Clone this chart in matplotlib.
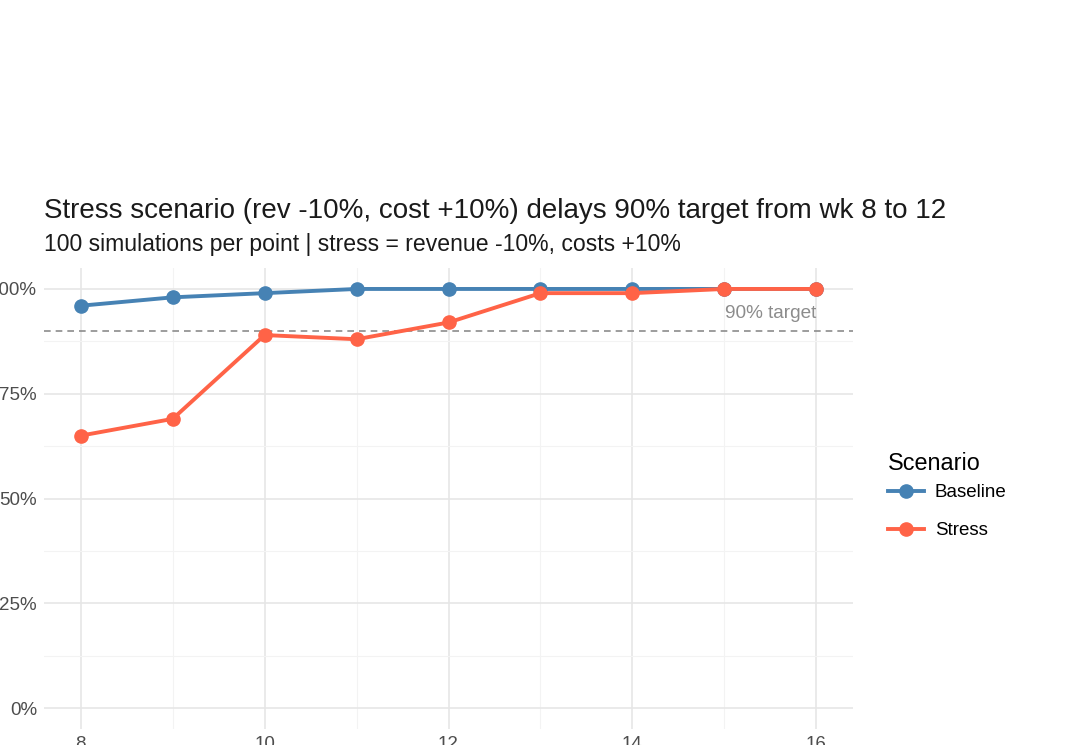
import matplotlib
matplotlib.use("Agg")
import matplotlib.pyplot as plt
from matplotlib.ticker import FixedLocator, PercentFormatter

plt.rcParams["font.family"] = ["Liberation Sans", "DejaVu Sans"]

weeks = [8, 9, 10, 11, 12, 13, 14, 15, 16]
baseline = [0.96, 0.98, 0.99, 1.00, 1.00, 1.00, 1.00, 1.00, 1.00]
stress = [0.65, 0.69, 0.89, 0.88, 0.92, 0.99, 0.99, 1.00, 1.00]
target = 0.90

title = "Stress scenario (rev -10%, cost +10%) delays 90% target from wk 8 to 12"
subtitle = "100 simulations per point | stress = revenue -10%, costs +10%"

BLUE = "#4682B4"
RED = "#FF6347"

W, H = 1075, 745
fig = plt.figure(figsize=(W / 100, H / 100), dpi=100)
# panel placed so that part of the axis labels falls off the canvas, as in the reference
left, right, top, bottom = 44, 853, 268, 729
ax = fig.add_axes([left / W, 1 - bottom / H, (right - left) / W, (bottom - top) / H])

ax.plot(weeks, baseline, color=BLUE, lw=2.8, marker="o", ms=9.5, label="Baseline", zorder=3)
ax.plot(weeks, stress, color=RED, lw=2.8, marker="o", ms=9.5, label="Stress", zorder=4)
ax.axhline(target, color="#8c8c8c", lw=1.2, ls=(0, (4, 3)), zorder=2)
ax.text(16, target + 0.042, "90% target", ha="right", va="center", color="#8c8c8c", fontsize=13.7)

ax.set_xlim(7.6, 16.4)
ax.set_ylim(-0.05, 1.05)
ax.xaxis.set_major_locator(FixedLocator([8, 10, 12, 14, 16]))
ax.xaxis.set_minor_locator(FixedLocator([9, 11, 13, 15]))
ax.yaxis.set_major_locator(FixedLocator([0, 0.25, 0.5, 0.75, 1.0]))
ax.yaxis.set_minor_locator(FixedLocator([0.125, 0.375, 0.625, 0.875]))
ax.yaxis.set_major_formatter(PercentFormatter(1.0, decimals=0))

ax.grid(which="major", color="#e6e6e6", lw=1.2)
ax.grid(which="minor", color="#f3f3f3", lw=0.8)
ax.set_axisbelow(True)
for s in ax.spines.values():
    s.set_visible(False)
ax.tick_params(which="both", length=0, labelsize=13.5, labelcolor="#4d4d4d")
ax.tick_params(axis="y", pad=5)
ax.tick_params(axis="x", pad=5)

fig.text(44 / W, 1 - 218 / H, title, fontsize=20, ha="left", va="baseline", color="#1a1a1a")
fig.text(44 / W, 1 - 251 / H, subtitle, fontsize=16.6, ha="left", va="baseline", color="#1a1a1a")

leg = fig.legend(loc="upper left", bbox_to_anchor=(871 / W, 1 - 435 / H), frameon=False,
                 title="Scenario", fontsize=13.5, title_fontsize=16.8,
                 handlelength=1.9, labelspacing=1.1, handletextpad=0.6)
leg._legend_box.align = "left"
leg._legend_box.sep = 0.5 * 13.5  # tighter gap between title and entries

fig.savefig("out.png", dpi=100)
